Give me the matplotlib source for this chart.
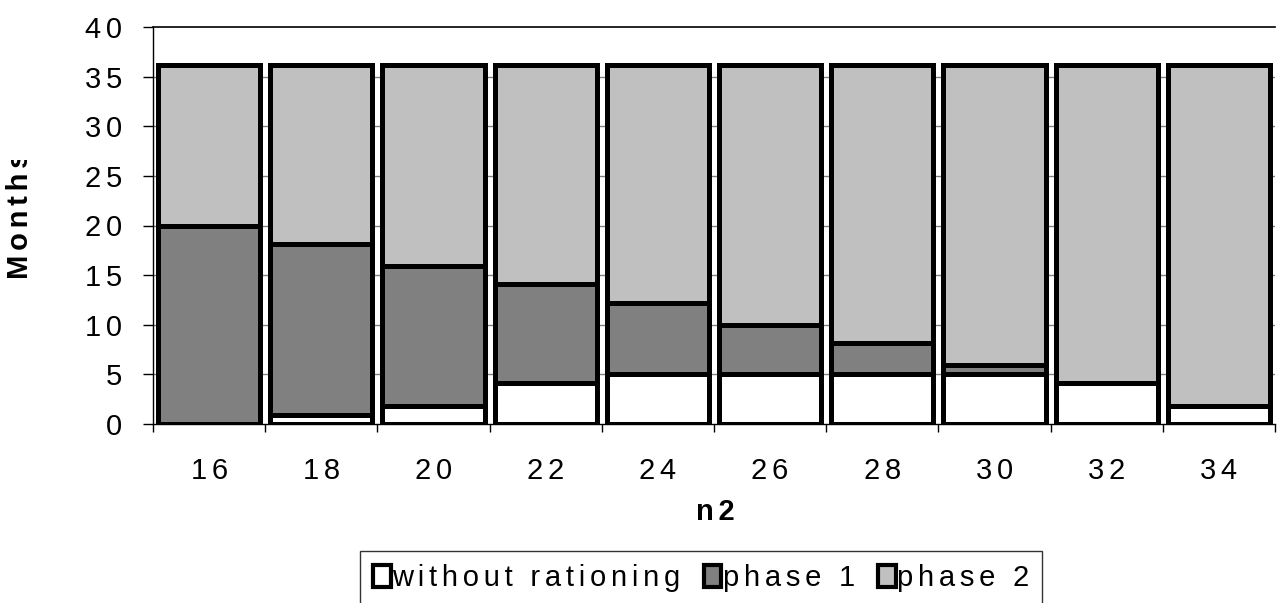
import matplotlib
matplotlib.use("Agg")
import matplotlib.pyplot as plt
from matplotlib.transforms import Bbox

# Data
categories = ["16", "18", "20", "22", "24", "26", "28", "30", "32", "34"]
without_rationing = [0.0, 0.9, 1.8, 4.1, 5.0, 5.0, 5.0, 5.0, 4.1, 1.8]
phase_1 = [20.0, 17.2, 14.1, 10.0, 7.2, 4.95, 3.15, 0.9, 0.0, 0.0]
phase_2 = [16.2, 18.1, 20.3, 22.1, 24.0, 26.25, 28.05, 30.3, 32.1, 34.4]
y_ticks = [0, 5, 10, 15, 20, 25, 30, 35, 40]
series_names = ["without rationing", "phase 1", "phase 2"]
x_title = "n2"
y_title = "Months"

FONT = ["Liberation Sans", "DejaVu Sans"]
plt.rcParams["font.family"] = FONT
FS = 21


def spaced(s):
    # widen the tracking of a label with hair spaces between the glyphs
    return "\u200a\u200a".join(s)


W, H, DPI = 1278, 603, 100
fig = plt.figure(figsize=(W / DPI, H / DPI), dpi=DPI)
ax = fig.add_axes([153 / W, 1 - 424 / H, (1275 - 153) / W, (424 - 27) / H])

x = list(range(len(categories)))
width = 0.91
lw = 3.6
bottoms2 = [a + b for a, b in zip(without_rationing, phase_1)]

b0 = ax.bar(x, without_rationing, width, color="white", edgecolor="black",
            linewidth=lw, zorder=3, label=spaced(series_names[0]))
b1 = ax.bar(x, phase_1, width, bottom=without_rationing, color="#808080",
            edgecolor="black", linewidth=lw, zorder=3, label=spaced(series_names[1]))
b2 = ax.bar(x, phase_2, width, bottom=bottoms2, color="#C0C0C0",
            edgecolor="black", linewidth=lw, zorder=3, label=spaced(series_names[2]))

ax.set_xlim(-0.5, len(categories) - 0.5)
ax.set_ylim(0, 40)

# horizontal gridlines; top one black
for v in y_ticks[1:-1]:
    ax.axhline(v, color="#808080", linewidth=1.0, zorder=1)
ax.axhline(40, color="black", linewidth=1.2, zorder=1, clip_on=False)

for side in ["top", "right"]:
    ax.spines[side].set_visible(False)
ax.spines["left"].set_linewidth(1.0)
ax.spines["bottom"].set_linewidth(1.0)
ax.spines["left"].set_zorder(4)
ax.spines["bottom"].set_zorder(4)

ax.set_yticks(y_ticks)
ax.set_yticklabels([spaced(str(v)) for v in y_ticks], fontsize=FS)
ax.tick_params(axis="y", direction="out", length=7.2, width=1, pad=15, color="black")

ax.set_xticks(x)
ax.set_xticklabels([spaced(c) for c in categories], fontsize=FS)
ax.tick_params(axis="x", which="major", length=0, pad=24)
ax.set_xticks([i - 0.5 for i in range(len(categories) + 1)], minor=True)
ax.tick_params(axis="x", which="minor", direction="out", length=5.5, width=1, color="black")

# axis titles
fig.text(715 / W, 1 - 512 / H, spaced(x_title), fontsize=FS, fontweight="bold",
         ha="center", va="center")
yt = fig.text(20.5 / W, 1 - 279 / H, spaced(y_title), fontsize=FS, fontweight="bold",
              rotation=90, ha="center", va="bottom")
yt.set_clip_box(Bbox.from_extents(0, 0, 120, H - 160))
yt.set_clip_on(True)

leg = fig.legend(handles=[b0, b1, b2], loc="upper left",
                 bbox_to_anchor=(360 / W, 1 - 551 / H), ncol=3,
                 fontsize=FS, frameon=True, fancybox=False, shadow=False,
                 handlelength=0.6, handleheight=0.75, handletextpad=0.05,
                 columnspacing=0.8, borderpad=0.45, borderaxespad=0.0)
leg.get_frame().set_edgecolor("black")
leg.get_frame().set_linewidth(1.0)
for h in leg.legend_handles:
    h.set_linewidth(3.0)

fig.savefig("out.png", dpi=DPI)
